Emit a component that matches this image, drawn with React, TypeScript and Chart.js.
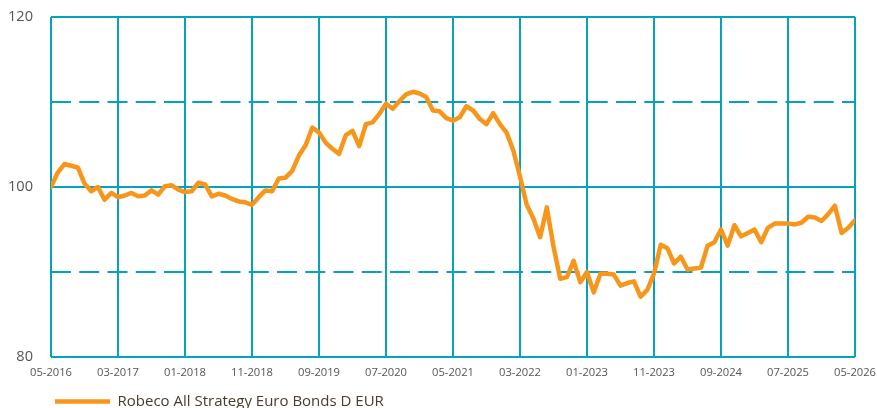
import React, { useEffect, useRef } from "react";
import { Chart, registerables } from "chart.js";

Chart.register(...registerables);

// Tick labels along the x-axis (every 10 months, May 2016 – May 2026)
const tickLabels = [
  "05-2016", "03-2017", "01-2018", "11-2018", "09-2019", "07-2020", "05-2021",
  "03-2022", "01-2023", "11-2023", "09-2024", "07-2025", "05-2026",
];

// y-axis values with a printed label / dashed grid levels
const yLabelLevels = [80, 100, 120];
const dashedLevels = [90, 110];

const seriesLabel = "Robeco All Strategy Euro Bonds D EUR";

// Monthly index values (month 0 = 05-2016 ... month 120 = 05-2026)
const fundValues = [
  100.0, 101.7, 102.7, 102.5, 102.3, 100.4, 99.5, 100.0, 98.5, 99.3,
  98.8, 99.0, 99.3, 98.9, 99.0, 99.6, 99.1, 100.1, 100.2, 99.7,
  99.4, 99.5, 100.5, 100.3, 98.9, 99.2, 99.0, 98.6, 98.3, 98.2,
  97.9, 98.8, 99.6, 99.5, 101.0, 101.1, 101.9, 103.7, 104.9, 107.0,
  106.4, 105.2, 104.5, 103.9, 106.1, 106.6, 104.8, 107.4, 107.6, 108.6,
  109.8, 109.2, 110.1, 110.9, 111.2, 111.0, 110.6, 109.0, 108.9, 108.1,
  107.8, 108.2, 109.5, 109.0, 108.0, 107.4, 108.7, 107.4, 106.4, 104.3,
  101.2, 97.9, 96.3, 94.1, 97.6, 93.0, 89.2, 89.4, 91.3, 88.8,
  90.0, 87.6, 89.8, 89.8, 89.7, 88.4, 88.7, 88.9, 87.1, 87.9,
  89.8, 93.2, 92.8, 91.0, 91.8, 90.3, 90.4, 90.5, 93.1, 93.5,
  95.0, 93.1, 95.5, 94.2, 94.6, 95.0, 93.5, 95.2, 95.7, 95.7,
  95.7, 95.6, 95.8, 96.5, 96.4, 96.0, 96.8, 97.8, 94.6, 95.2,
  96.1,
];

const GRID = "#05a2bd";
const LINE = "#f7961b";
const TICK_TEXT = "#555555";
const LEGEND_TEXT = "#4a3b2c";
const FONT = "'Open Sans', 'Noto Sans', sans-serif";

const dashedGridPlugin = {
  id: "dashedGrid",
  beforeDatasetsDraw(chart: any) {
    const { ctx, chartArea, scales } = chart;
    const y = scales.y;
    ctx.save();
    ctx.strokeStyle = GRID;
    ctx.lineWidth = 2;
    ctx.setLineDash([20, 8.25]);
    for (const v of dashedLevels) {
      const py = Math.round(y.getPixelForValue(v));
      ctx.beginPath();
      ctx.moveTo(chartArea.left, py);
      ctx.lineTo(chartArea.right, py);
      ctx.stroke();
    }
    ctx.restore();
  },
};

const legendShiftPlugin = {
  id: "legendShift",
  afterLayout(chart: any) {
    const lg = chart.legend;
    if (lg) {
      lg.left += 55;
      lg.right += 55;
    }
  },
};

export default function App() {
  const canvasRef = useRef<HTMLCanvasElement | null>(null);

  useEffect(() => {
    if (!canvasRef.current) return;
    const chart = new Chart(canvasRef.current, {
      type: "line",
      data: {
        datasets: [
          {
            label: seriesLabel,
            data: fundValues.map((v, i) => ({ x: i, y: v })),
            borderColor: LINE,
            backgroundColor: LINE,
            borderWidth: 4.5,
            borderCapStyle: "round",
            borderJoinStyle: "round",
            pointRadius: 0,
            pointStyle: "line",
            tension: 0,
            fill: false,
          },
        ],
      },
      options: {
        animation: false,
        responsive: false,
        devicePixelRatio: 1,
        layout: { padding: { top: 17, right: 22, left: 0, bottom: -11 } },
        plugins: {
          tooltip: { enabled: false },
          legend: {
            display: true,
            position: "bottom",
            align: "start",
            labels: {
              usePointStyle: true,
              pointStyle: "line",
              pointStyleWidth: 55,
              padding: 0,
              color: LEGEND_TEXT,
              font: { family: FONT, size: 15 },
            },
          },
        },
        scales: {
          x: {
            type: "linear",
            min: 0,
            max: 120,
            afterFit(scale: any) {
              scale.height = 37;
              scale.paddingLeft = 0;
              scale.paddingRight = 0;
              scale.paddingTop = 0;
              scale.paddingBottom = 0;
            },
            border: { display: false },
            grid: {
              color: GRID,
              lineWidth: 2,
              drawTicks: false,
            },
            ticks: {
              stepSize: 10,
              autoSkip: false,
              maxRotation: 0,
              padding: 9,
              color: TICK_TEXT,
              font: { family: FONT, size: 11.2 },
              callback: (v: any) => tickLabels[Math.round(Number(v) / 10)] ?? "",
            },
          },
          y: {
            min: 80,
            max: 120,
            afterFit(scale: any) {
              scale.width = 51;
              scale.paddingLeft = 0;
              scale.paddingRight = 0;
              scale.paddingTop = 0;
              scale.paddingBottom = 0;
            },
            border: { display: false },
            grid: {
              color: (c: any) =>
                c.tick && yLabelLevels.includes(c.tick.value) ? GRID : "rgba(0,0,0,0)",
              lineWidth: 2,
              drawTicks: false,
            },
            ticks: {
              stepSize: 10,
              padding: 18,
              color: TICK_TEXT,
              font: { family: FONT, size: 14.6 },
              callback: (v: any) => (yLabelLevels.includes(Number(v)) ? String(v) : ""),
            },
          },
        },
      },
      plugins: [dashedGridPlugin, legendShiftPlugin],
    } as any);
    return () => chart.destroy();
  }, []);

  return (
    <div style={{ position: "absolute", left: 0, top: 0, width: 877, height: 408, background: "#fff" }}>
      <canvas ref={canvasRef} width={877} height={408} style={{ display: "block" }} />
    </div>
  );
}
